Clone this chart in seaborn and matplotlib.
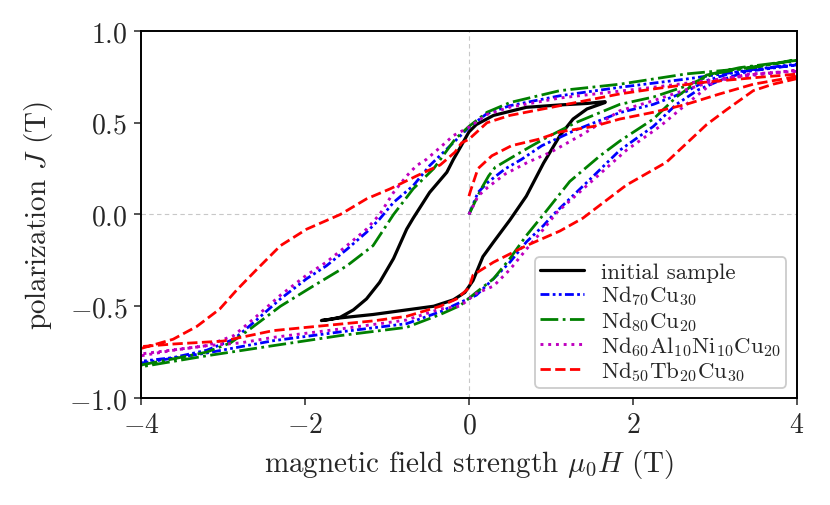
import numpy as np
import pandas as pd
import matplotlib
matplotlib.use("Agg")
import matplotlib.pyplot as plt
import seaborn as sns

# ---------------- data ----------------
labels = ["initial sample", r"Nd$_{70}$Cu$_{30}$", r"Nd$_{80}$Cu$_{20}$",
          r"Nd$_{60}$Al$_{10}$Ni$_{10}$Cu$_{20}$", r"Nd$_{50}$Tb$_{20}$Cu$_{30}$"]

# initial sample (black): upper branch then lower branch
k_H = [1.66, 1.44, 1.11, 0.70, 0.30, 0.09, 0.0, -0.10, -0.19, -0.27, -0.48, -0.68, -0.76,
       -0.92, -1.09, -1.25, -1.41, -1.57, -1.70, -1.80,
       -1.60, -1.17, -0.76, -0.43, -0.19, -0.05, 0.05, 0.17, 0.30, 0.50, 0.70, 0.91,
       1.11, 1.27, 1.44, 1.66]
k_J = [0.615, 0.605, 0.597, 0.584, 0.54, 0.49, 0.45, 0.37, 0.30, 0.23, 0.12, -0.02, -0.08,
       -0.24, -0.37, -0.46, -0.52, -0.56, -0.572, -0.578,
       -0.565, -0.545, -0.52, -0.50, -0.465, -0.425, -0.36, -0.23, -0.15, -0.03, 0.10, 0.28,
       0.43, 0.52, 0.575, 0.61]

# Nd70Cu30 (blue)
b_init_H = [0.0, 0.11, 0.23, 0.44, 0.64, 0.89, 1.30, 1.84, 2.25, 2.65, 2.90, 3.20, 3.50, 4.0]
b_init_J = [0.0, 0.12, 0.175, 0.248, 0.30, 0.375, 0.46, 0.555, 0.60, 0.67, 0.73, 0.77, 0.79, 0.815]
b_desc_H = [4.0, 3.47, 2.65, 1.84, 1.11, 0.50, 0.22, 0.0, -0.17, -0.48, -0.68, -0.92, -1.09,
            -1.25, -1.49, -1.74, -1.98, -2.30, -2.63, -2.87, -3.20, -3.61, -4.0]
b_desc_J = [0.82, 0.79, 0.738, 0.693, 0.647, 0.593, 0.55, 0.475, 0.40, 0.266, 0.157, 0.066, -0.025,
            -0.097, -0.19, -0.28, -0.35, -0.46, -0.59, -0.68, -0.74, -0.78, -0.80]
b_asc_H = [-4.0, -3.20, -2.39, -1.57, -0.76, -0.35, -0.11, 0.09, 0.30, 0.50, 0.70, 0.91, 1.03,
           1.52, 1.84, 2.25, 2.53, 2.80, 3.06, 3.40, 4.0]
b_asc_J = [-0.81, -0.755, -0.688, -0.64, -0.595, -0.53, -0.48, -0.44, -0.35, -0.26, -0.15, -0.06, 0.0,
           0.21, 0.35, 0.48, 0.60, 0.68, 0.73, 0.78, 0.815]

# Nd80Cu20 (green)
g_init_H = [0.0, 0.15, 0.24, 0.32, 0.52, 0.75, 0.95, 1.30, 1.84, 2.25, 2.65, 2.98, 3.40, 4.0]
g_init_J = [0.0, 0.14, 0.21, 0.257, 0.31, 0.37, 0.42, 0.50, 0.60, 0.64, 0.70, 0.766, 0.80, 0.84]
g_desc_H = [4.0, 3.47, 2.65, 1.84, 1.11, 0.50, 0.22, 0.0, -0.17, -0.43, -0.68, -0.92, -1.17,
            -1.49, -1.90, -2.30, -2.67, -2.91, -3.20, -3.61, -4.0]
g_desc_J = [0.845, 0.80, 0.766, 0.71, 0.675, 0.61, 0.557, 0.48, 0.41, 0.25, 0.14, 0.0, -0.17,
            -0.28, -0.39, -0.50, -0.624, -0.70, -0.75, -0.787, -0.82]
g_asc_H = [-4.0, -3.20, -2.39, -1.57, -0.76, -0.35, -0.11, 0.09, 0.30, 0.50, 0.70, 0.91, 1.23,
           1.60, 1.84, 2.25, 2.53, 2.90, 3.30, 4.0]
g_asc_J = [-0.83, -0.77, -0.715, -0.66, -0.615, -0.545, -0.497, -0.424, -0.35, -0.24, -0.115, 0.0, 0.18,
           0.32, 0.40, 0.52, 0.64, 0.76, 0.80, 0.84]

# Nd60Al10Ni10Cu20 (magenta)
m_init_H = [0.0, 0.11, 0.23, 0.44, 0.72, 1.00, 1.40, 1.84, 2.25, 2.65, 3.00, 3.40, 4.0]
m_init_J = [0.0, 0.10, 0.148, 0.22, 0.285, 0.34, 0.44, 0.565, 0.62, 0.68, 0.73, 0.76, 0.785]
m_desc_H = [4.0, 3.06, 2.25, 1.50, 1.11, 0.50, 0.22, 0.0, -0.19, -0.35, -0.52, -0.64, -0.76,
            -0.92, -1.09, -1.25, -1.49, -1.74, -1.98, -2.30, -2.63, -2.87, -3.20, -3.61, -4.0]
m_desc_J = [0.785, 0.738, 0.693, 0.655, 0.635, 0.585, 0.545, 0.475, 0.43, 0.366, 0.30, 0.266, 0.21,
            0.12, 0.0, -0.08, -0.17, -0.26, -0.33, -0.44, -0.57, -0.66, -0.715, -0.74, -0.77]
m_asc_H = [-4.0, -3.20, -2.79, -2.39, -1.57, -0.76, -0.35, -0.11, 0.09, 0.30, 0.50, 0.70, 0.91,
           1.07, 1.52, 1.92, 2.33, 2.65, 2.98, 3.40, 4.0]
m_asc_J = [-0.76, -0.715, -0.70, -0.67, -0.624, -0.575, -0.515, -0.50, -0.43, -0.39, -0.30, -0.19, -0.08,
           0.01, 0.19, 0.35, 0.48, 0.60, 0.72, 0.765, 0.78]

# Nd50Tb20Cu30 (red)
r_init_H = [0.0, 0.02, 0.11, 0.28, 0.52, 0.85, 1.11, 1.52, 1.84, 2.25, 2.65, 3.06, 3.47, 4.0]
r_init_J = [0.10, 0.13, 0.25, 0.32, 0.375, 0.41, 0.45, 0.48, 0.52, 0.557, 0.60, 0.657, 0.71, 0.752]
r_desc_H = [4.0, 3.47, 2.86, 2.25, 1.84, 1.11, 0.50, 0.22, 0.0, -0.09, -0.17, -0.35, -0.64, -0.96,
            -1.25, -1.57, -1.98, -2.30, -2.59, -2.83, -3.04, -3.32, -3.61, -4.0]
r_desc_J = [0.765, 0.745, 0.72, 0.684, 0.657, 0.593, 0.54, 0.50, 0.41, 0.39, 0.34, 0.27, 0.21, 0.14,
            0.085, 0.0, -0.08, -0.17, -0.30, -0.41, -0.515, -0.61, -0.68, -0.73]
r_asc_H = [-4.0, -3.61, -3.00, -2.39, -1.98, -1.17, -0.76, -0.35, -0.15, 0.0, 0.05, 0.30, 0.50, 0.70,
           1.11, 1.39, 1.92, 2.41, 2.90, 3.14, 3.47, 3.71, 4.0]
r_asc_J = [-0.72, -0.706, -0.69, -0.633, -0.615, -0.58, -0.555, -0.50, -0.46, -0.40, -0.33, -0.26, -0.215, -0.17,
           -0.09, -0.02, 0.16, 0.285, 0.49, 0.57, 0.675, 0.71, 0.74]

x_ticks = [-4, -2, 0, 2, 4]
y_ticks = [-1.0, -0.5, 0.0, 0.5, 1.0]

# ---------------- style ----------------
sns.set_style("ticks")
plt.rcParams.update({
    "font.family": ["cmr10"],
    "mathtext.fontset": "cm",
    "axes.formatter.use_mathtext": True,
    "axes.unicode_minus": True,
    "xtick.direction": "out",
    "ytick.direction": "out",
    "xtick.major.size": 5,
    "ytick.major.size": 5,
    "xtick.major.width": 1.1,
    "ytick.major.width": 1.1,
    "axes.linewidth": 1.4,
    "axes.edgecolor": "black",
})

fig = plt.figure(figsize=(8.3, 5.06), dpi=100)
ax = fig.add_axes([0.170, 0.2115, 0.790, 0.7253])

ax.axhline(0, color="#c8c8c8", lw=0.8, ls=(0, (4, 3)), zorder=0)
ax.axvline(0, color="#c8c8c8", lw=0.8, ls=(0, (4, 3)), zorder=0)

def series(Hs, Js):
    H = np.concatenate([np.asarray(h, float) for h in Hs])
    J = np.concatenate([np.asarray(j, float) for j in Js])
    return pd.DataFrame({"H": H, "J": J})

specs = [
    (series([k_H], [k_J]), "black", "-", 2.3),
    (series([b_init_H, b_desc_H, b_asc_H], [b_init_J, b_desc_J, b_asc_J]), "blue", (0, (3.2, 1.2, 1.0, 1.2, 1.0, 1.2)), 2.0),
    (series([g_init_H, g_desc_H, g_asc_H], [g_init_J, g_desc_J, g_asc_J]), "green", "-.", 2.0),
    (series([m_init_H, m_desc_H, m_asc_H], [m_init_J, m_desc_J, m_asc_J]), "m", ":", 2.1),
    (series([r_init_H, r_desc_H, r_asc_H], [r_init_J, r_desc_J, r_asc_J]), "red", "--", 2.0),
]

handles = []
for (df, color, ls, lw), lab in zip(specs, labels):
    n0 = len(ax.lines)
    sns.lineplot(data=df, x="H", y="J", sort=False, estimator=None, color=color,
                 linestyle=ls, lw=lw, label=lab, ax=ax, legend=False)
    ln = ax.lines[n0]
    ln.set_linewidth(lw)
    handles.append(ln)

ax.set_xlim(-4, 4)
ax.set_ylim(-1, 1)
ax.set_xticks(x_ticks)
ax.set_yticks(y_ticks)
ax.tick_params(labelsize=20, pad=5)
ax.set_xlabel(r"magnetic field strength $\mu_0H$ (T)", fontsize=21, labelpad=6)
ax.set_ylabel(r"polarization $J$ (T)", fontsize=21, labelpad=10)

leg = ax.legend(handles=handles, labels=labels, loc="lower right", fontsize=16.5,
                frameon=True, fancybox=True, edgecolor="#cccccc", framealpha=1.0,
                handlelength=1.9, borderpad=0.22, labelspacing=0.05, borderaxespad=0.45,
                handletextpad=0.75)
leg.get_frame().set_linewidth(1.3)

fig.savefig("out.png", dpi=100)
